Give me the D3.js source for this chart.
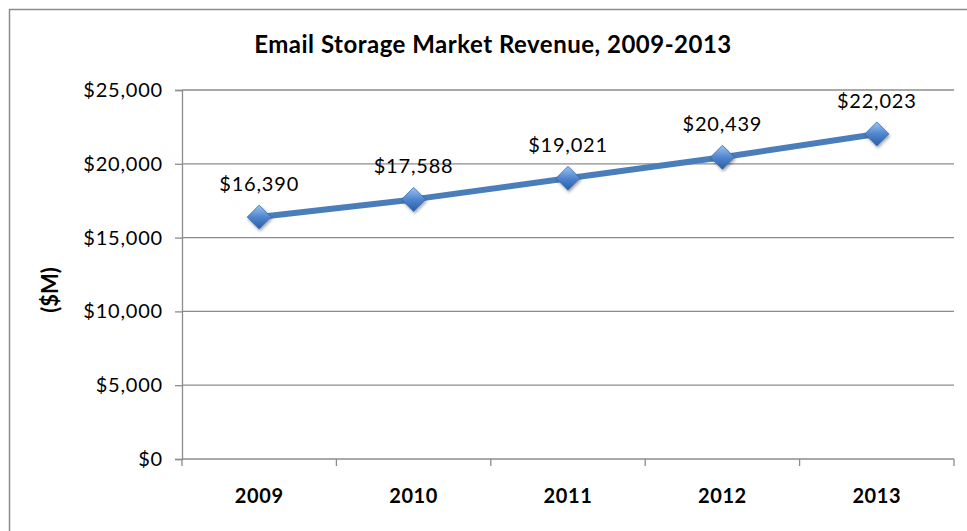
<!DOCTYPE html>
<html>
<head>
<meta charset="utf-8">
<script src="https://cdn.jsdelivr.net/npm/d3@7"></script>
<style>
  body { margin: 0; background: #fff; }
  svg text { font-family: Lato, "Open Sans", sans-serif; fill: #000; }
</style>
</head>
<body>
<div id="drawing"></div>
<script>
const width = 967;
const height = 531;
const margin = {top: 90, right: 13, bottom: 72, left: 182};

// chart data
const years = ["2009", "2010", "2011", "2012", "2013"];
const revenue = [16390, 17588, 19021, 20439, 22023];
const yTicks = [0, 5000, 10000, 15000, 20000, 25000];

const fmt = d3.format("$,");

const svg = d3.select("#drawing").append("svg")
  .attr("width", width)
  .attr("height", height);

// gradient + shadow for the diamonds
const defs = svg.append("defs");
const grad = defs.append("linearGradient")
  .attr("id", "diamondFill")
  .attr("x1", "0").attr("y1", "0").attr("x2", "0").attr("y2", "1");
grad.append("stop").attr("offset", "0%").attr("stop-color", "#9dc3f0");
grad.append("stop").attr("offset", "50%").attr("stop-color", "#4f86cf");
grad.append("stop").attr("offset", "100%").attr("stop-color", "#2a5da3");
const shadow = defs.append("filter").attr("id", "shadow")
  .attr("x", "-50%").attr("y", "-50%").attr("width", "200%").attr("height", "200%");
shadow.append("feDropShadow")
  .attr("dx", 1).attr("dy", 2).attr("stdDeviation", 1.5)
  .attr("flood-color", "#000").attr("flood-opacity", 0.35);

// outer chart frame
svg.append("rect")
  .attr("x", 9.5).attr("y", 9.5)
  .attr("width", width + 20).attr("height", height + 20)
  .attr("fill", "none")
  .attr("stroke", "#8c8c8c")
  .attr("stroke-width", 1.5);

svg.append("text")
  .attr("x", 493).attr("y", 53)
  .attr("text-anchor", "middle")
  .style("font-size", "24px")
  .style("font-weight", "bold")
  .style("letter-spacing", "0.5px")
  .text("Email Storage Market Revenue, 2009-2013");

const plotW = width - margin.left - margin.right;
const plotH = height - margin.top - margin.bottom;

const g = svg.append("g")
  .attr("transform", `translate(${margin.left}, ${margin.top})`);

const xScale = d3.scaleBand().domain(years).range([0, plotW]);
const yScale = d3.scaleLinear().domain([0, 25000]).range([plotH, 0]);

// gridlines + y axis
const yAxis = g.append("g")
  .call(d3.axisLeft(yScale).tickValues(yTicks).tickFormat(fmt).tickSize(7).tickPadding(12));
yAxis.select(".domain").attr("stroke", "#8c8c8c").attr("stroke-width", 1.3);
yAxis.selectAll(".tick line").attr("stroke", "#8c8c8c").attr("stroke-width", 1.3);
yAxis.selectAll(".tick text")
  .style("font-size", "20px")
  .style("letter-spacing", "0.8px")
  .attr("fill", "#000");

g.append("g")
  .selectAll("line")
  .data(yTicks)
  .join("line")
    .attr("x1", 0).attr("x2", plotW)
    .attr("y1", (d) => yScale(d)).attr("y2", (d) => yScale(d))
    .attr("stroke", "#8c8c8c")
    .attr("stroke-width", 1.3);

// x axis: ticks sit on band boundaries
const xAxis = g.append("g")
  .attr("transform", `translate(0, ${plotH})`)
  .call(d3.axisBottom(xScale).tickSize(0).tickPadding(30));
xAxis.select(".domain").remove();
xAxis.selectAll(".tick text")
  .style("font-size", "20px")
  .style("font-weight", "bold")
  .style("letter-spacing", "0.6px")
  .attr("fill", "#000");

const bounds = years.map((d) => xScale(d)).concat([plotW]);
g.append("g")
  .selectAll("line")
  .data(bounds)
  .join("line")
    .attr("x1", (d) => d).attr("x2", (d) => d)
    .attr("y1", plotH).attr("y2", plotH + 7)
    .attr("stroke", "#8c8c8c")
    .attr("stroke-width", 1.3);

// y axis title
svg.append("text")
  .attr("transform", "translate(58, 290) rotate(-90)")
  .attr("text-anchor", "middle")
  .style("font-size", "22px")
  .style("font-weight", "bold")
  .text("($M)");

const cx = (i) => xScale(years[i]) + xScale.bandwidth() / 2;

const line = d3.line()
  .x((d, i) => cx(i))
  .y((d) => yScale(d));

g.append("path")
  .datum(revenue)
  .attr("d", line)
  .attr("fill", "none")
  .attr("stroke", "#4a7ebb")
  .attr("stroke-width", 6)
  .attr("stroke-linejoin", "round");

const s = 12;
g.selectAll(".marker")
  .data(revenue)
  .join("path")
    .attr("class", "marker")
    .attr("d", `M0,${-s}L${s},0L0,${s}L${-s},0Z`)
    .attr("transform", (d, i) => `translate(${cx(i)}, ${yScale(d)})`)
    .attr("fill", "url(#diamondFill)")
    .attr("stroke", "#3a6cb0")
    .attr("stroke-width", 0.8)
    .attr("filter", "url(#shadow)");

g.selectAll(".label")
  .data(revenue)
  .join("text")
    .attr("class", "label")
    .attr("x", (d, i) => cx(i))
    .attr("y", (d) => yScale(d) - 26)
    .attr("text-anchor", "middle")
    .style("font-size", "20px")
    .style("letter-spacing", "0.8px")
    .text((d) => fmt(d));
</script>
</body>
</html>
